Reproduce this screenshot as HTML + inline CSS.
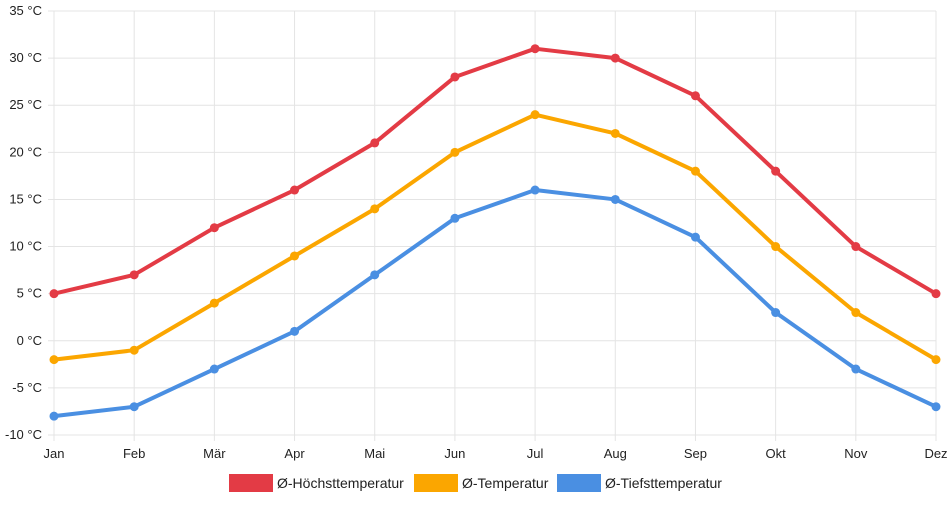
<!DOCTYPE html>
<html><head><meta charset="utf-8"><style>
body{margin:0;background:#fff;font-family:"Liberation Sans",sans-serif}
svg text{font-family:"Liberation Sans",sans-serif;font-size:13px;fill:#222}
svg text.lg{font-size:14px}
</style></head><body>
<svg id="c" width="952" height="500"></svg>
<script>
const months=["Jan","Feb","Mär","Apr","Mai","Jun","Jul","Aug","Sep","Okt","Nov","Dez"];
const highTemps=[5,7,12,16,21,28,31,30,26,18,10,5];
const meanTemps=[-2,-1,4,9,14,20,24,22,18,10,3,-2];
const lowTemps=[-8,-7,-3,1,7,13,16,15,11,3,-3,-7];
const yTicks=[-10,-5,0,5,10,15,20,25,30,35];
const seriesNames=["Ø-Höchsttemperatur","Ø-Temperatur","Ø-Tiefsttemperatur"];
const svg=document.getElementById('c');const NS="http://www.w3.org/2000/svg";
const L=54,R=936,T=11,B=435,yMin=-10,yMax=35;
const x=i=>L+i*(R-L)/(months.length-1);
const y=v=>B-(v-yMin)/(yMax-yMin)*(B-T);
function el(t,a,p){const e=document.createElementNS(NS,t);for(const k in a)e.setAttribute(k,a[k]);(p||svg).appendChild(e);return e;}
const grid=el('g',{});


yTicks.forEach(v=>{el('line',{x1:L-6,x2:R,y1:y(v),y2:y(v),stroke:'#e4e4e4'},grid);
const t=el('text',{x:42,y:y(v)+4,'text-anchor':'end'});t.textContent=v+' °C';

});
months.forEach((m,i)=>{el('line',{x1:x(i),x2:x(i),y1:T,y2:B+6,stroke:'#e4e4e4'},grid);
const t=el('text',{x:x(i),y:B+23,'text-anchor':'middle'});t.textContent=m;

});
const colors=["#e33b45","#fba600","#4a8fe2"];
[highTemps,meanTemps,lowTemps].forEach((s,k)=>{
const g=el('g',{});


el('polyline',{points:s.map((v,i)=>x(i)+','+y(v)).join(' '),fill:'none',stroke:colors[k],'stroke-width':4,'stroke-linejoin':'round'},g);
s.forEach((v,i)=>{const c=el('circle',{cx:x(i),cy:y(v),r:4.5,fill:colors[k]},g);

});
});
const lx=[229,414,557];
seriesNames.forEach((n,k)=>{const g=el('g',{});


el('rect',{x:lx[k],y:474,width:44,height:18,fill:colors[k]},g);
const t=el('text',{x:lx[k]+48,y:488,'class':'lg'},g);t.textContent=n;});
</script>
</body></html>
